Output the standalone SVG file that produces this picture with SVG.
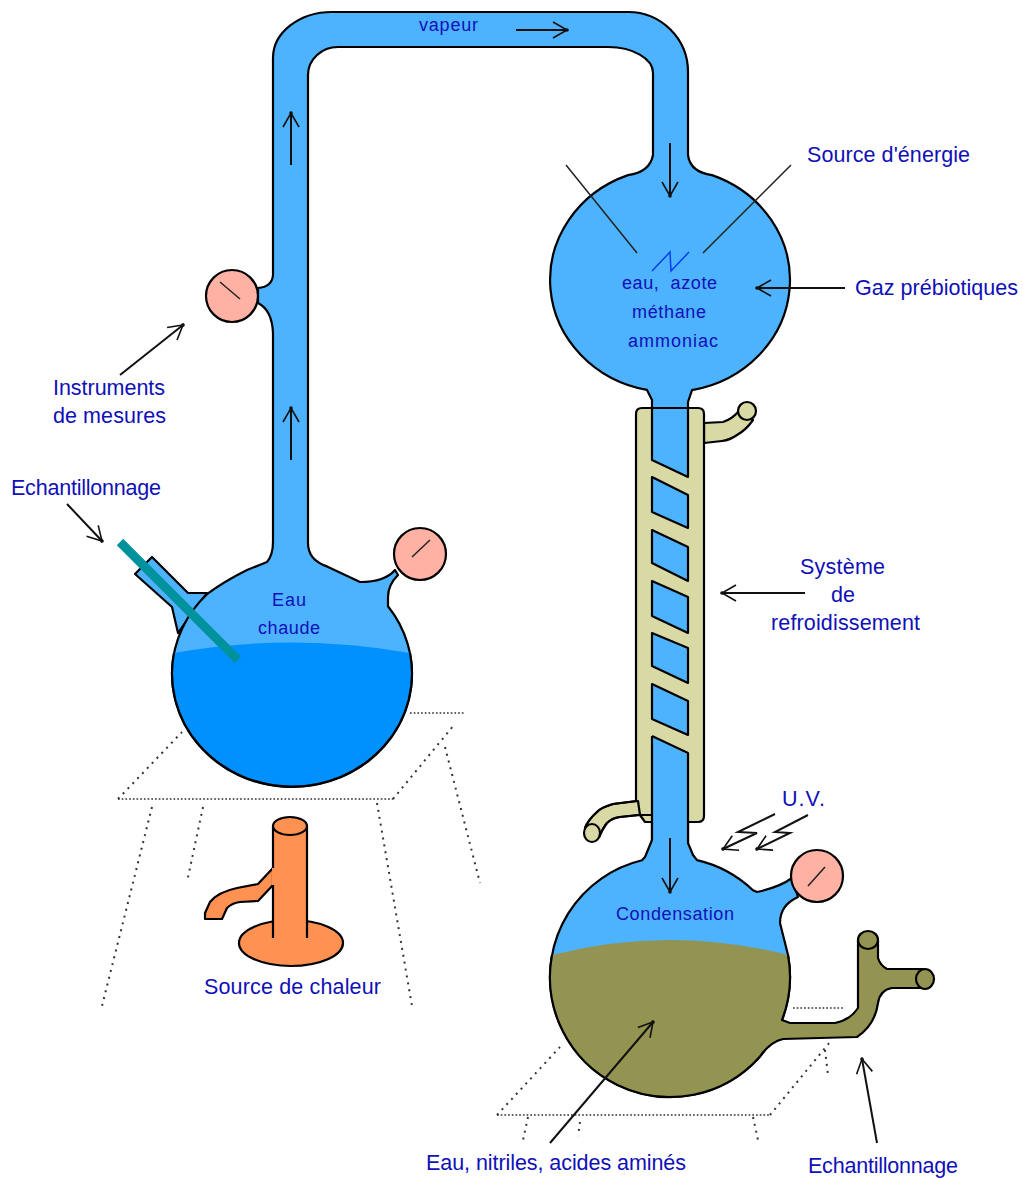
<svg xmlns="http://www.w3.org/2000/svg" width="1023" height="1180" viewBox="0 0 1023 1180">
<style>
.o{stroke:#000;stroke-width:2.2;stroke-linejoin:round}
.gas{fill:#4db3ff}
.cool{fill:#d9d9a5}
.brown{fill:#949452}
.gauge{fill:#ffb1a3}
.orange{fill:#ff9152}
.n{fill:none;stroke:#000;stroke-width:2.2;stroke-linejoin:round}
.l{font-family:"Liberation Sans",Arial,sans-serif;font-size:21.5px;fill:#1010b8}
.s{font-family:"Liberation Sans",Arial,sans-serif;font-size:18px;fill:#1010b8}
.a{fill:none;stroke:#111;stroke-width:2;marker-end:url(#h)}
.d{fill:none;stroke:#333;stroke-width:1.7;stroke-dasharray:1.7 2}
.e{fill:none;stroke:#333;stroke-width:2;stroke-dasharray:2 5}
.p{fill:none;stroke:#222;stroke-width:1.5}
</style>
<defs>
<marker id="h" markerUnits="userSpaceOnUse" markerWidth="24" markerHeight="24" refX="16" refY="12" orient="auto" viewBox="0 0 24 24">
<path d="M2 4L16 12L2 20" fill="none" stroke="#111" stroke-width="1.600"/>
<circle cx="16" cy="12" r="1.800" fill="#111"/>
</marker>
</defs>
<rect width="1023" height="1180" fill="#fff"/>

<g id="table-left">
<path class="d" d="M118 799H393M410 713H465"/>
<path class="e" d="M118 799L182 732M393 799L454 725M152 807L102 1006M203 807L187 882M377 803L412 1006M445 747L480 883"/>
</g>
<g id="table-right">
<path class="d" d="M497 1115H770M793 1008H843"/>
<path class="e" d="M497 1115L560 1047M770 1115L830 1042M528 1117L523 1140M580 1122L578 1136M753 1117L758 1140M825 1050L828 1075"/>
</g>

<g id="burner">
<ellipse class="o orange" cx="291" cy="943" rx="52" ry="23"/>
<path class="o orange" d="M273 868L258 884L237 888Q218 892 210 902L205 913V919H222L227 908Q232 903 240 902L258 901L273 885Z"/>
<path class="orange" d="M272 826H307V938H272Z"/>
<path class="n" d="M273 826V868M273 885V938M307 826V938"/>
<ellipse class="o orange" cx="290" cy="826" rx="17" ry="9"/>
</g>

<g id="side-arm">
<path class="o gas" d="M135 574L152 557L188 593H207L178 633L172 607Z"/>
</g>
<g id="glass-upper">
<path class="o gas" d="M273 542V333Q272 310 258 303V288Q272 287 273 275V58A59 46 0 0 1 332 12H628A60 60 0 0 1 688 72V155Q690 172 712 175.100A120 112 0 0 1 692 390.100L688 402V440H652V400L647 389.900A120 112 0 0 1 628 175.100Q650 172 653 155V73A45 26 0 0 0 608 47H338A30 28 0 0 0 308 75V543Q308 560 327 566.400L360 582Q385 582 395 570L398 575Q388 585 388 597V606.200A120 113 0 1 1 207 594.200Q223 582 247 570L267 562Q273 555 273 542Z"/>
</g>
<g id="liquid-left">
<path fill="#0090ff" d="M174 653Q292 632 410 653A120 113 0 1 1 174 653Z"/>
<path class="n" d="M410 653A120 113 0 1 1 174 653"/>
</g>
<g id="rod"><path d="M120 542L238 660" fill="none" stroke="#00929c" stroke-width="9"/></g>

<g id="gauge-1"><circle class="o gauge" cx="232" cy="296" r="26"/><path class="p" d="M220 282L240 299"/></g>
<g id="gauge-2"><circle class="o gauge" cx="420" cy="554" r="26"/><path class="p" d="M412 557L430 540"/></g>

<g id="lower-flask">
<path class="o gas" d="M652 750V840L645 857L642 860.300A120 120 0 1 0 788 955L780 923Q780 905 798 897L792 878Q780 887 757 892L753 890.300A120 120 0 0 0 697 860.100L693 855L688 843V750Z"/>
<path fill="#949452" d="M552 955Q670 925 788 955A120 120 0 0 1 782 1020L790 1023H835Q850 1020 858 1008V940H878V958Q880 965 887 969H924V988H892Q880 990 878 1003Q875 1025 857 1037L783 1039Q770 1042 760 1056.400A120 120 0 0 1 552 955Z"/>
<path class="n" d="M788 955A120 120 0 0 1 782 1020L790 1023H835Q850 1020 858 1008V940M878 940V958Q880 965 887 969H924M924 988H892Q880 990 878 1003Q875 1025 857 1037L783 1039Q770 1042 760 1056.400A120 120 0 0 1 552 955"/>
<ellipse class="o brown" cx="868" cy="940" rx="10" ry="9"/>
<ellipse class="o brown" cx="925" cy="979" rx="9" ry="10"/>
</g>
<g id="gauge-3"><circle class="o gauge" cx="817" cy="876" r="26"/><path class="p" d="M808 886L825 867"/></g>

<g id="condenser">
<path class="o cool" d="M704 423L723 422Q732 419 738 412L753 420Q746 430 737 435Q730 440 722 441L704 443Z"/>
<ellipse class="o cool" cx="747" cy="411" rx="9" ry="9"/>
<path class="cool" d="M636 414Q636 408 642 408H698Q704 408 704 414V816Q704 822 698 822H645L637 815V801L636 801Z"/>
<path class="o cool" d="M638 801L613 804Q600 808 597 812Q588 820 585 828L599 837Q603 828 607 823Q612 818 620 817L640 815Z" stroke="none"/>
<path class="n" d="M636 801L613 804Q600 808 597 812Q588 820 585 828M599 837Q603 828 607 823Q612 818 620 817L638 815H652M636 801V414Q636 408 642 408H698Q704 408 704 414V816Q704 822 698 822H645L640 815"/>
<ellipse class="o cool" cx="592" cy="833" rx="8" ry="9"/>
<path class="o gas" d="M652 408H688V477L652 460Z"/>
<path class="o gas" d="M652 477L688 495V528L652 512Z"/>
<path class="o gas" d="M652 530L688 547V581L652 563Z"/>
<path class="o gas" d="M652 581L688 597V633L652 616Z"/>
<path class="o gas" d="M652 633L688 648V683L652 666Z"/>
<path class="o gas" d="M652 684L688 701V735L652 719Z"/>
<path class="gas" d="M653 737L687 754V845H653Z"/>
<path class="n" d="M652 736L688 753V843M652 736V840"/>
</g>

<g id="connectors">
<path class="a" d="M291 165V113"/>
<path class="a" d="M291 460V408"/>
<path class="a" d="M516 30H567"/>
<path class="a" d="M670 143V196"/>
<path class="a" d="M845 288H757"/>
<path class="a" d="M805 593H722"/>
<path class="a" d="M670 838V892"/>
<path class="a" d="M120 375L183 325"/>
<path class="a" d="M67 504L102 541"/>
<path class="a" d="M877 1143L862 1059"/>
<path class="a" d="M550 1143L653 1022"/>
<path class="a" d="M775 814L738 832L757 833L723 849"/>
<path class="a" d="M808 815L775 832L790 833L757 849"/>
<path class="p" d="M566 165L637 253M791 165L703 253"/>
<path d="M652 271L670 252L671 271L689 252" fill="none" stroke="#0a3cf0" stroke-width="1.500"/>
</g>

<g id="labels">
<text class="s" x="419" y="31" textLength="59" lengthAdjust="spacing">vapeur</text>
<text class="s" x="272" y="606" textLength="34" lengthAdjust="spacing">Eau</text>
<text class="s" x="258" y="634" textLength="62" lengthAdjust="spacing">chaude</text>
<text class="s" x="622" y="289" textLength="95" lengthAdjust="spacing" xml:space="preserve">eau,  azote</text>
<text class="s" x="632" y="318" textLength="74" lengthAdjust="spacing">méthane</text>
<text class="s" x="628" y="347" textLength="90" lengthAdjust="spacing">ammoniac</text>
<text class="s" x="616" y="920" textLength="118" lengthAdjust="spacing">Condensation</text>
<text class="l" x="807" y="162" textLength="163" lengthAdjust="spacing">Source d'énergie</text>
<text class="l" x="855" y="295" textLength="163" lengthAdjust="spacing">Gaz prébiotiques</text>
<text class="l" x="800" y="574" textLength="85" lengthAdjust="spacing">Système</text>
<text class="l" x="831" y="602" textLength="24" lengthAdjust="spacing">de</text>
<text class="l" x="771" y="630" textLength="149" lengthAdjust="spacing">refroidissement</text>
<text class="l" x="53" y="395" textLength="112" lengthAdjust="spacing">Instruments</text>
<text class="l" x="53" y="423" textLength="113" lengthAdjust="spacing">de mesures</text>
<text class="l" x="11" y="495" textLength="150" lengthAdjust="spacing">Echantillonnage</text>
<text class="l" x="204" y="994" textLength="177" lengthAdjust="spacing">Source de chaleur</text>
<text class="l" x="782" y="806" textLength="43" lengthAdjust="spacing">U.V.</text>
<text class="l" x="426" y="1170" textLength="260" lengthAdjust="spacing">Eau, nitriles, acides aminés</text>
<text class="l" x="808" y="1173" textLength="150" lengthAdjust="spacing">Echantillonnage</text>
</g>
</svg>
